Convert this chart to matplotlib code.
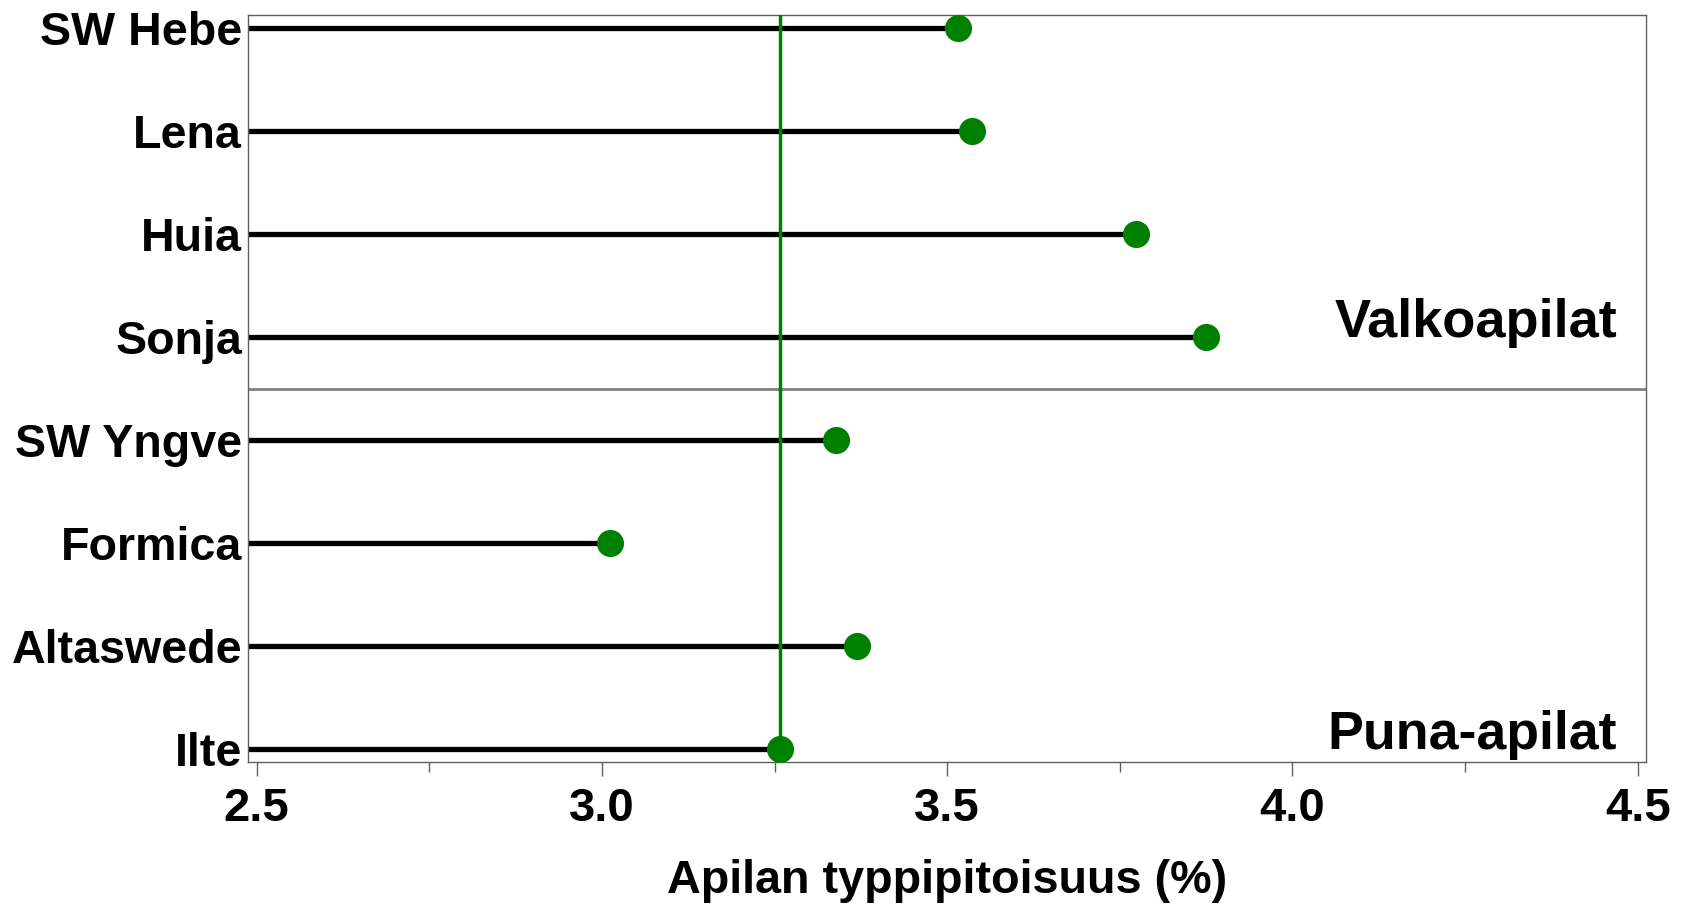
import matplotlib
matplotlib.use("Agg")
import matplotlib.pyplot as plt
from matplotlib.ticker import MultipleLocator

cultivars = ["SW Hebe", "Lena", "Huia", "Sonja", "SW Yngve", "Formica", "Altaswede", "Ilte"]
nitrogen = [3.516, 3.536, 3.774, 3.875, 3.339, 3.012, 3.370, 3.258]
reference_value = 3.258
group_labels = ["Valkoapilat", "Puna-apilat"]
xlabel = "Apilan typpipitoisuus (%)"

plt.rcParams['font.family'] = ['Liberation Sans', 'DejaVu Sans']
plt.rcParams['font.weight'] = 'bold'

fig = plt.figure(figsize=(16.84, 9.07), dpi=100)
ax = fig.add_axes([0.1471, 0.1595, 0.9774 - 0.1471, 0.9838 - 0.1595])

xmin, xmax = 2.487, 4.512
n = len(cultivars)
ypos = [n - 1 - i for i in range(n)]

ax.axhline(3.5, color='#808080', lw=2.0, zorder=1)
ax.hlines(ypos, xmin, nitrogen, color='black', lw=3.8, zorder=2)
ax.axvline(reference_value, color='#008000', lw=2.5, zorder=3)
ax.plot(nitrogen, ypos, 'o', color='#008000', markersize=18.5, zorder=4, linestyle='none')

ax.set_xlim(xmin, xmax)
ax.set_ylim(-0.13, 7.13)
ax.set_yticks(ypos)
ax.set_yticklabels(cultivars)
ax.xaxis.set_major_locator(MultipleLocator(0.5))
ax.xaxis.set_minor_locator(MultipleLocator(0.25))
ax.xaxis.set_major_formatter(matplotlib.ticker.FormatStrFormatter('%.1f'))
ax.tick_params(axis='y', length=0, pad=4, labelsize=33.6)
ax.tick_params(axis='x', which='major', length=10, width=1, color='#606060', labelsize=34, pad=8)
ax.tick_params(axis='x', which='minor', length=7, width=1, color='#606060')
for lab in ax.get_xticklabels() + ax.get_yticklabels():
    lab.set_fontweight('bold')
for s in ax.spines.values():
    s.set_color('#606060')
    s.set_linewidth(1.0)

ax.set_xlabel(xlabel, fontsize=33.7, fontweight='bold', labelpad=20)

xt = xmax - 29 / 690.5
ax.text(xt, 4, group_labels[0], ha='right', va='baseline', fontsize=39, fontweight='bold')
ax.text(xt, 0, group_labels[1], ha='right', va='baseline', fontsize=38.6, fontweight='bold')

fig.savefig("out.png", dpi=100)
